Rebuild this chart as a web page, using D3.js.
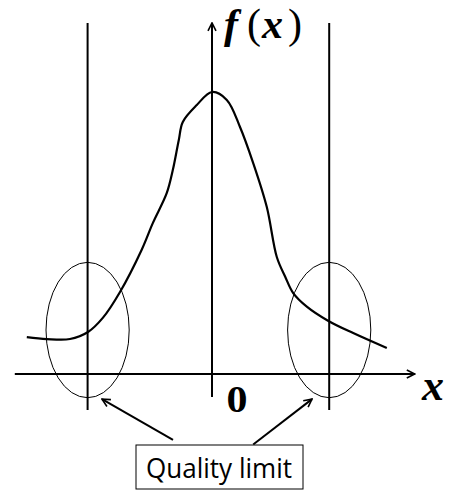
<!DOCTYPE html>
<html>
<head>
<meta charset="utf-8">
<script src="https://cdn.jsdelivr.net/npm/d3@7"></script>
<style>
  body { margin: 0; background: #fff; }
</style>
</head>
<body>
<div id="chart"></div>
<script>
// Data
const curveX = [-4.63, -4.13, -3.55, -3.10, -2.73, -2.30, -1.76, -1.48, -1.13, -0.98, -0.83, -0.73, -0.38, 0, 0.37, 0.70, 1.03, 1.37, 1.62, 1.83, 2.03, 2.37, 2.90, 3.53, 4.37]
const curveY = [0.131, 0.124, 0.124, 0.149, 0.199, 0.291, 0.440, 0.535, 0.642, 0.723, 0.830, 0.894, 0.954, 1.0, 0.972, 0.876, 0.748, 0.592, 0.415, 0.345, 0.287, 0.239, 0.189, 0.145, 0.092]
const limits = [-3.11, 2.93]
const labels = { x: 'x', origin: '0', note: 'Quality limit' }

function draw() {
  const dimensions = { width: 463, height: 495 }

  const svg = d3.select('#chart')
    .append('svg')
    .attr('width', dimensions.width)
    .attr('height', dimensions.height)

  // Scales
  const xScale = d3.scaleLinear().domain([-5, 5]).range([12, 412])
  const yScale = d3.scaleLinear().domain([0, 1]).range([374, 92])

  const defs = svg.append('defs')
  defs.append('marker')
    .attr('id', 'head')
    .attr('viewBox', '0 0 10 10')
    .attr('refX', 9).attr('refY', 5)
    .attr('markerWidth', 10).attr('markerHeight', 10)
    .attr('markerUnits', 'userSpaceOnUse')
    .attr('orient', 'auto')
    .append('path')
    .attr('d', 'M1,1 L9,5 L1,9')
    .attr('fill', 'none')
    .attr('stroke', '#000')
    .attr('stroke-width', 1.6)

  const line = (x1, y1, x2, y2) => svg.append('line')
    .attr('x1', xScale(x1)).attr('y1', yScale(y1))
    .attr('x2', xScale(x2)).attr('y2', yScale(y2))
    .attr('stroke', '#000')

  // Axes
  line(-4.93, 0, 5.07, 0).attr('stroke-width', 2).attr('marker-end', 'url(#head)')
  line(0, -0.082, 0, 1.245).attr('stroke-width', 2).attr('marker-end', 'url(#head)')

  // Quality limits
  limits.forEach(l => line(l, -0.128, l, 1.245).attr('stroke-width', 2))

  // Ellipses
  svg.selectAll('ellipse')
    .data(limits)
    .join('ellipse')
    .attr('cx', d => xScale(d))
    .attr('cy', yScale(0.156))
    .attr('rx', xScale(1.04) - xScale(0))
    .attr('ry', yScale(0) - yScale(0.24))
    .attr('fill', 'none')
    .attr('stroke', '#000')
    .attr('stroke-width', 1)

  // Curve
  const pts = curveX.map((x, i) => [x, curveY[i]])
  svg.append('path')
    .datum(pts)
    .attr('d', d3.line()
      .x(d => xScale(d[0]))
      .y(d => yScale(d[1]))
      .curve(d3.curveCatmullRom))
    .attr('fill', 'none')
    .attr('stroke', '#000')
    .attr('stroke-width', 2.2)

  // Labels
  const serif = '"Liberation Serif", "DejaVu Serif", serif'
  const fx = svg.append('text')
    .attr('x', 224).attr('y', 38)
    .style('font-family', serif)
    .style('font-size', '42px')
  fx.append('tspan').style('font-style', 'italic').style('font-weight', 'bold').text('f')
  fx.append('tspan').attr('dx', 9).text('(')
  fx.append('tspan').attr('dx', 1).style('font-style', 'italic').style('font-weight', 'bold').text('x')
  fx.append('tspan').attr('dx', 5).text(')')

  svg.append('text')
    .attr('x', 422).attr('y', 400)
    .style('font-family', serif)
    .style('font-size', '44px')
    .style('font-style', 'italic')
    .style('font-weight', 'bold')
    .text(labels.x)

  svg.append('text')
    .attr('x', xScale(0.36)).attr('y', 412)
    .attr('textLength', 21)
    .attr('lengthAdjust', 'spacingAndGlyphs')
    .style('font-family', serif)
    .style('font-size', '37px')
    .style('font-weight', 'bold')
    .text(labels.origin)

  // Annotation
  line(-0.975, -0.234, -2.75, -0.089).attr('stroke-width', 2).attr('marker-end', 'url(#head)')
  line(1.03, -0.25, 2.5, -0.089).attr('stroke-width', 2).attr('marker-end', 'url(#head)')

  svg.append('rect')
    .attr('x', 136).attr('y', 445)
    .attr('width', 167).attr('height', 44)
    .attr('fill', '#fff')
    .attr('stroke', '#000')
    .attr('stroke-width', 1)

  svg.append('text')
    .attr('x', 146).attr('y', 478)
    .attr('textLength', 146)
    .attr('lengthAdjust', 'spacingAndGlyphs')
    .style('font-family', '"Open Sans", sans-serif')
    .style('font-size', '28px')
    .text(labels.note)
}

draw()
</script>
</body>
</html>
